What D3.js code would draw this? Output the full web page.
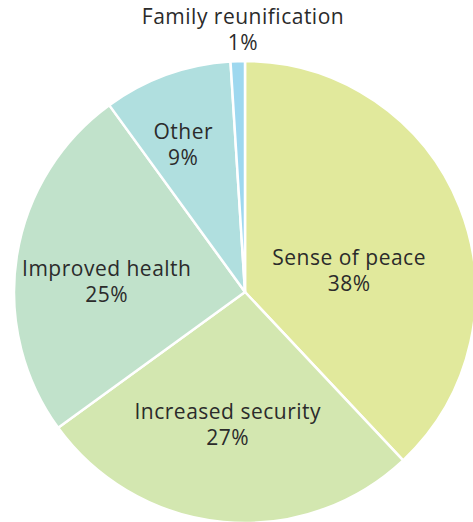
<!DOCTYPE html>
<html>
<head>
<meta charset="utf-8">
<script src="https://cdn.jsdelivr.net/npm/d3@7"></script>
<style>
  html, body { margin: 0; padding: 0; background: #fff; }
  svg text { font-family: 'Open Sans', sans-serif; fill: #2b2b2b; letter-spacing: 0.5px; }
</style>
</head>
<body>
<svg id="chart" width="473" height="522"></svg>
<script>
// Pie of reasons; slices run clockwise from 12 o'clock.
var categories = ['Sense of peace', 'Increased security', 'Improved health', 'Other', 'Family reunification'];
var values = [38, 27, 25, 9, 1];
var labels = ['38%', '27%', '25%', '9%', '1%'];
var colors = ['#e1e99c', '#d3e7b0', '#c1e2cb', '#b0dfdf', '#9ed8ef'];

(function () {
    var svg = d3.select('#chart');
    var cx = 245, cy = 292, R = 231;
    var FS = 21, LH = 26;

    // label placement: radius factor and angle nudge (deg) per slice
    var labelR = [0.46, 0.58, 0.60, 0.69];
    var labelNudge = [10, 2, -5, -3];

    var g = svg.append('g').attr('transform', 'translate(' + cx + ',' + cy + ')');

    var pie = d3.pie().sort(null).value(function (d) { return d; });
    var arcs = pie(values);
    var arc = d3.arc().innerRadius(0).outerRadius(R);

    g.selectAll('path').data(arcs).enter().append('path')
        .attr('d', arc)
        .attr('fill', function (d, i) { return colors[i]; })
        .attr('stroke', '#fff')
        .attr('stroke-width', 2.5)
        .attr('stroke-linejoin', 'round');

    arcs.forEach(function (d, i) {
        var x, y;
        if (i < labelR.length) {
            var a = (d.startAngle + d.endAngle) / 2 + labelNudge[i] * Math.PI / 180;
            var r = labelR[i] * R;
            x = r * Math.sin(a);
            y = -r * Math.cos(a);
        } else {
            // tiny slice: label sits above the pie
            x = -2;
            y = -R - 31;
        }
        var t = g.append('text').attr('text-anchor', 'middle')
            .style('font-size', FS + 'px');
        t.append('tspan').attr('x', x).attr('y', y - LH / 2 + 7).text(categories[i]);
        t.append('tspan').attr('x', x).attr('y', y + LH / 2 + 7).text(labels[i]);
    });
})();
</script>
</body>
</html>
